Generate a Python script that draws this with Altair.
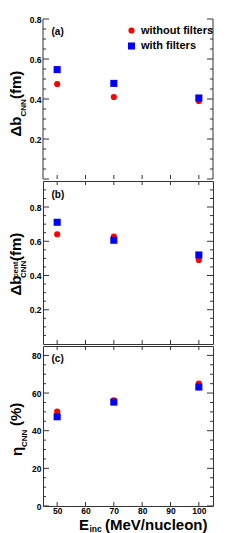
import altair as alt
import pandas as pd

# ---------------- data ----------------
energies = [50, 70, 100]
series_names = ["without filters", "with filters"]
db_without = [0.475, 0.41, 0.39]
db_with = [0.547, 0.478, 0.405]
dbc_without = [0.641, 0.627, 0.491]
dbc_with = [0.711, 0.606, 0.52]
eta_without = [50.2, 56.1, 65.0]
eta_with = [47.4, 55.2, 63.2]

x_ticks = [50, 60, 70, 80, 90, 100]
ya_major = [0.2, 0.4, 0.6, 0.8]
ya_minor = [0.05, 0.1, 0.15, 0.25, 0.3, 0.35, 0.45, 0.5, 0.55, 0.65, 0.7, 0.75]
yb_major = [0.2, 0.4, 0.6, 0.8]
yb_minor = [0.05, 0.1, 0.15, 0.25, 0.3, 0.35, 0.45, 0.5, 0.55, 0.65, 0.7, 0.75, 0.85, 0.9]
yc_major = [0, 20, 40, 60, 80]
yc_minor = [5, 10, 15, 25, 30, 35, 45, 50, 55, 65, 70, 75]

FONT = "Liberation Sans"
FRAME = "#333333"
W = 170
TX = -22.3   # baseline of the big y-title glyphs (panel px)
SX = -16.8   # baseline of subscripts
PX = -25.3   # baseline of superscript


def long_df(v_wo, v_w):
    rows = []
    for e, v in zip(energies, v_wo):
        rows.append({"energy": e, "value": v, "series": series_names[0]})
    for e, v in zip(energies, v_w):
        rows.append({"energy": e, "value": v, "series": series_names[1]})
    return pd.DataFrame(rows)


def text_piece(t, x, y, size):
    return alt.Chart(pd.DataFrame({"t": [t]})).mark_text(
        font=FONT, fontWeight="bold", fontSize=size, color="black",
        align="left", baseline="alphabetic", angle=270
    ).encode(text="t:N", x=alt.value(x), y=alt.value(y))


def htext_piece(t, x, y, size):
    return alt.Chart(pd.DataFrame({"t": [t]})).mark_text(
        font=FONT, fontWeight="bold", fontSize=size, color="black",
        align="left", baseline="alphabetic"
    ).encode(text="t:N", x=alt.value(x), y=alt.value(y))


def panel(v_wo, v_w, ydomain, H, major, minor, ylabels, label, label_y,
          ytitle, show_legend=False, x_labels=False, top_ticks=True, xtitle=None,
          full_frame=True):
    xscale = alt.Scale(domain=[45, 105], nice=False, zero=False)
    yscale = alt.Scale(domain=ydomain, nice=False, zero=False)
    if show_legend:
        leg = alt.Legend(orient="none", legendX=83, legendY=6, title=None,
                         labelFont=FONT, labelFontSize=11, labelFontWeight="bold",
                         labelColor="black", symbolStrokeWidth=0, rowPadding=3.5,
                         labelOffset=4, padding=0, symbolOpacity=1)
    else:
        leg = None
    if x_labels:
        xaxis = alt.Axis(values=x_ticks, ticks=False, domain=False, grid=False,
                         title=None, labelFont=FONT, labelFontSize=8.5,
                         labelFontWeight="bold", labelColor="black", labelPadding=0)
    else:
        xaxis = None
    yaxis = alt.Axis(values=ylabels, ticks=False, domain=False, grid=False, title=None,
                     labelFont=FONT, labelFontSize=8.5, labelFontWeight="bold",
                     labelColor="black", labelPadding=2)
    points = alt.Chart(long_df(v_wo, v_w)).mark_point(
        filled=True, opacity=1, strokeWidth=0
    ).encode(
        x=alt.X("energy:Q", scale=xscale, axis=xaxis),
        y=alt.Y("value:Q", scale=yscale, axis=yaxis),
        color=alt.Color("series:N", scale=alt.Scale(domain=series_names,
                                                    range=["#ff0000", "#0000ff"]), legend=leg),
        shape=alt.Shape("series:N", scale=alt.Scale(domain=series_names,
                                                    range=["circle", "square"]), legend=leg),
        size=alt.Size("series:N", scale=alt.Scale(domain=series_names, range=[38, 50]),
                      legend=leg),
    )
    layers = []
    # inward ticks on y (left and right)
    for vals, ln in ((major, 6), (minor, 3)):
        d = pd.DataFrame({"v": vals})
        layers.append(alt.Chart(d).mark_rule(color=FRAME, strokeWidth=1).encode(
            y=alt.Y("v:Q", scale=yscale, axis=yaxis), x=alt.value(0), x2=alt.value(ln)))
        layers.append(alt.Chart(d).mark_rule(color=FRAME, strokeWidth=1).encode(
            y=alt.Y("v:Q", scale=yscale, axis=yaxis), x=alt.value(W - ln), x2=alt.value(W)))
    dx = pd.DataFrame({"v": x_ticks})
    layers.append(alt.Chart(dx).mark_rule(color=FRAME, strokeWidth=1).encode(
        x=alt.X("v:Q", scale=xscale, axis=xaxis), y=alt.value(H - 4), y2=alt.value(H)))
    if top_ticks:
        layers.append(alt.Chart(dx).mark_rule(color=FRAME, strokeWidth=1).encode(
            x=alt.X("v:Q", scale=xscale, axis=xaxis), y=alt.value(0), y2=alt.value(4)))
    if not full_frame:
        for xv in (0, W):
            layers.append(alt.Chart(pd.DataFrame({"a": [0]})).mark_rule(
                color=FRAME, strokeWidth=1).encode(x=alt.value(xv), y=alt.value(0),
                                                   y2=alt.value(H)))
    # panel label
    layers.append(htext_piece(label, 8.5, label_y, 10))
    for t, x, y, s in ytitle:
        layers.append(text_piece(t, x, y, s))
    if xtitle:
        for t, x, y, s in xtitle:
            layers.append(htext_piece(t, x, y, s))
    ch = alt.layer(points, *layers).properties(width=W, height=H)
    if not full_frame:
        ch = ch.properties(view=alt.ViewBackground(stroke=None))
    return ch


pa = panel(db_without, db_with, [0, 0.8], 160, [0] + ya_major, ya_minor, ya_major,
           "(a)", 15.5,
           [("Δb", TX, 117.5, 15), ("CNN", SX, 97.5, 8), ("(fm)", TX, 80, 15)],
           show_legend=True, top_ticks=False, full_frame=False)
pb = panel(dbc_without, dbc_with, [0, 0.952], 163, yb_major, yb_minor, yb_major,
           "(b)", 16.5,
           [("Δb", TX, 114.5, 15), ("cent.", PX, 97, 8), ("CNN", SX, 97, 8),
            ("(fm)", TX, 80, 15)])
pc = panel(eta_without, eta_with, [0, 85], 160, yc_major, yc_minor, yc_major,
           "(c)", 16,
           [("η", TX + 1.5, 110, 15), ("CNN", SX + 0.5, 101, 8), ("(%)", TX, 80, 15)],
           x_labels=True,
           xtitle=[("E", 36, 184, 15), ("inc", 46.5, 185.8, 8.5),
                   ("(MeV/nucleon)", 62, 184, 15)])

chart = alt.vconcat(pa, pb, pc, spacing=0).resolve_scale(
    color="independent", shape="independent", size="independent"
).resolve_legend(color="independent", shape="independent", size="independent"
).properties(
    padding={"left": 0, "top": 7, "right": 5, "bottom": 1}
).configure_view(stroke=FRAME, strokeWidth=1)

chart.save("out.html", embed_options={"renderer": "svg", "actions": False})
